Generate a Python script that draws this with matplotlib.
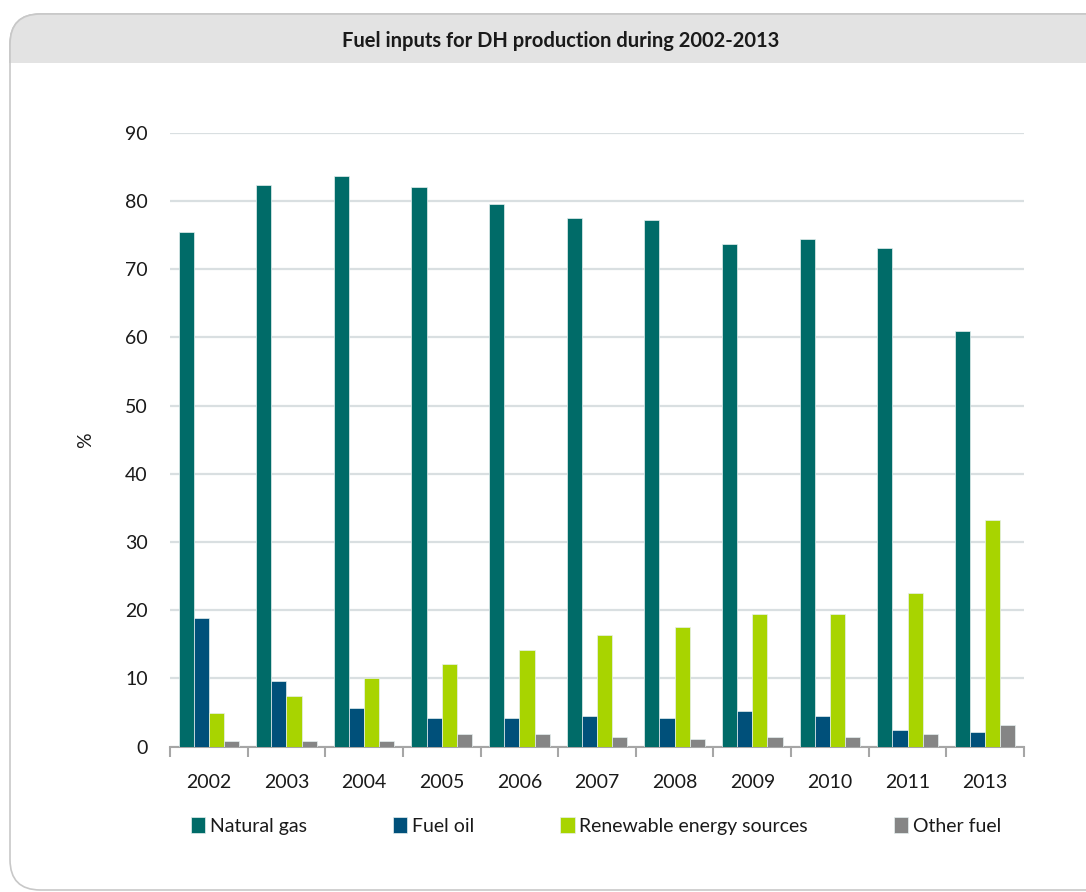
import numpy as np
import matplotlib
matplotlib.use("Agg")
import matplotlib.pyplot as plt
from matplotlib.patches import FancyBboxPatch, Rectangle

plt.rcParams['font.family'] = ['Lato', 'DejaVu Sans']

# data (%)
years = ["2002", "2003", "2004", "2005", "2006", "2007", "2008", "2009", "2010", "2011", "2013"]
natural_gas = [75.5, 82.4, 83.7, 82.0, 79.6, 77.5, 77.2, 73.7, 74.4, 73.1, 61.0]
fuel_oil = [18.9, 9.6, 5.6, 4.2, 4.2, 4.5, 4.2, 5.2, 4.5, 2.4, 2.2]
renewables = [4.9, 7.4, 10.0, 12.1, 14.2, 16.3, 17.6, 19.4, 19.4, 22.5, 33.3]
other_fuel = [0.8, 0.8, 0.8, 1.8, 1.8, 1.4, 1.1, 1.4, 1.4, 1.8, 3.2]

series = [
    ("Natural gas", natural_gas, "#006b68"),
    ("Fuel oil", fuel_oil, "#00507a"),
    ("Renewable energy sources", renewables, "#a8d400"),
    ("Other fuel", other_fuel, "#858585"),
]

W, H = 1086, 892
fig = plt.figure(figsize=(W / 100, H / 100), dpi=100)

# rounded panel with grey header band
panel_x, panel_y = 10 / W, 2 / H
panel = FancyBboxPatch((panel_x, panel_y), 1.05, 1 - 14 / H - panel_y,
                       boxstyle="round,pad=0,rounding_size=0.028",
                       transform=fig.transFigure, facecolor="white",
                       edgecolor="#c8c8c8", linewidth=1.2, zorder=0,
                       mutation_aspect=W / H)
fig.add_artist(panel)
header = FancyBboxPatch((panel_x, panel_y), 1.05, 1 - 14 / H - panel_y,
                        boxstyle="round,pad=0,rounding_size=0.028",
                        transform=fig.transFigure, facecolor="#e3e3e3",
                        edgecolor="#c8c8c8", linewidth=1.2, zorder=0.5,
                        mutation_aspect=W / H)
clip = Rectangle((0, 1 - 63 / H), 1, 63 / H, transform=fig.transFigure)
header.set_clip_path(clip)
fig.add_artist(header)

fig.text(561 / W, 1 - 41 / H, "Fuel inputs for DH production during 2002-2013",
         ha="center", va="center", fontsize=14.5, fontweight="bold", color="#1a1a1a")

ax = fig.add_axes([170 / W, 1 - 746.7 / H, (1024 - 170) / W, (746.7 - 132.7) / H])

x = np.arange(len(years))
bw = 0.195
for i, (name, vals, col) in enumerate(series):
    ax.bar(x + (i - 1.5) * bw, vals, bw, color=col, label=name,
           edgecolor="#e6efef", linewidth=0.5, zorder=3)

ax.set_xlim(-0.5, len(years) - 0.5)
ax.set_ylim(0, 90)
ax.set_yticks(range(0, 91, 10))
ax.yaxis.grid(True, color="#d9dfe1", linewidth=1.6, zorder=0)
ax.set_axisbelow(True)
for s in ["left", "right", "top"]:
    ax.spines[s].set_visible(False)
ax.spines["bottom"].set_color("#a6a6a6")
ax.spines["bottom"].set_linewidth(1.5)

ax.set_xticks(x)
ax.set_xticklabels(years)
ax.set_xticks(np.arange(-0.5, len(years), 1), minor=True)
ax.tick_params(axis="x", which="major", length=0, pad=20, labelsize=14, labelcolor="#1a1a1a")
ax.tick_params(axis="x", which="minor", length=7, width=1.5, color="#a6a6a6")
ax.tick_params(axis="y", length=0, pad=16, labelsize=14, labelcolor="#1a1a1a")
ax.set_ylabel("%", fontsize=14, color="#1a1a1a", labelpad=22)

fig.legend(loc="center", bbox_to_anchor=(596 / W, 1 - 826 / H), ncol=4, frameon=False,
           fontsize=14, handlelength=0.75, handleheight=0.9, handletextpad=0.25,
           columnspacing=4.4, labelcolor="#1a1a1a")

fig.savefig("out.png", dpi=100)
